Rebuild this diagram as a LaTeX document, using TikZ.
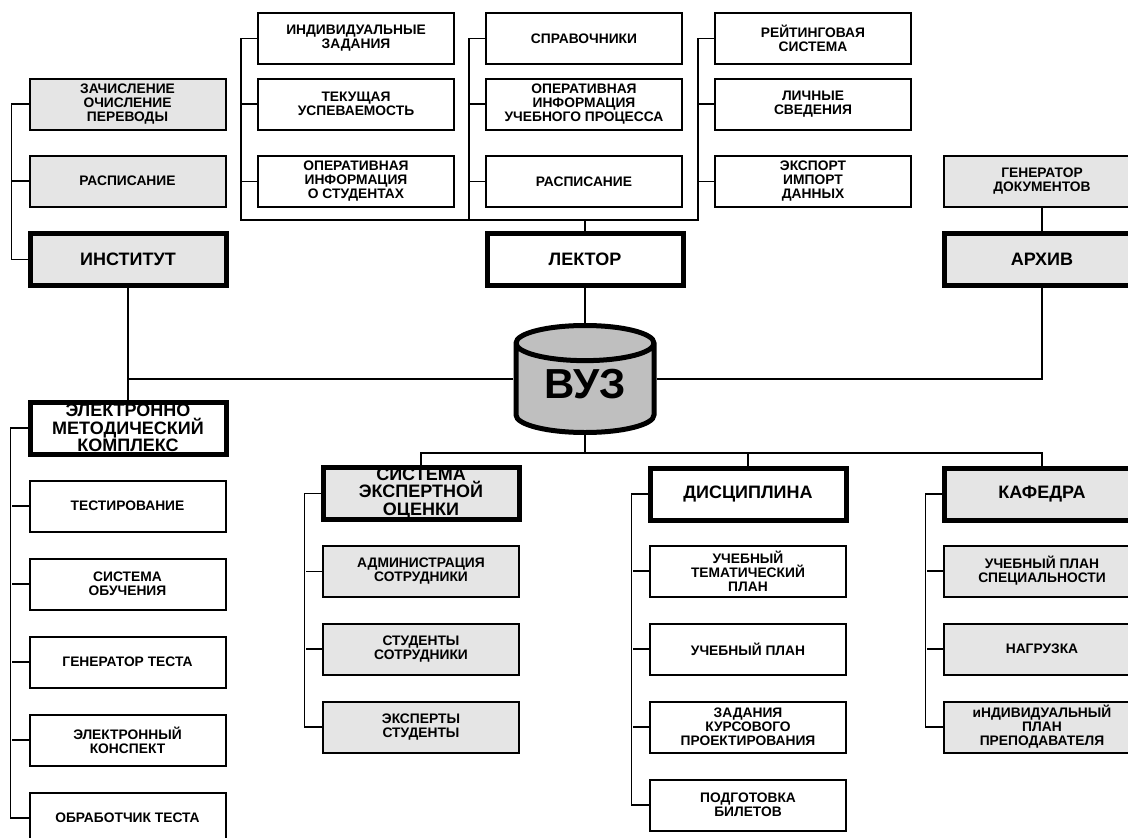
\documentclass[tikz,border=0pt]{standalone}
\usepackage{fontspec}
\setmainfont{Liberation Sans}
\usepackage{tikz}
\usetikzlibrary{shapes.geometric,calc}
\definecolor{boxgray}{gray}{0.9}
\definecolor{cylgray}{gray}{0.75}

\begin{document}
\begin{tikzpicture}[x=1pt,y=-1pt,
		box/.style={draw,line width=2pt,fill=white,minimum width=196,minimum height=51,inner sep=1pt,align=center,font=\bfseries\fontsize{13.8}{14}\selectfont},
		mainbox/.style={box,line width=5pt,minimum height=52,inner sep=0pt,font=\bfseries\fontsize{18}{17.5}\selectfont},
		greybox/.style={fill=boxgray},
		dbase/.style={cylinder,shape border rotate=90,draw,line width=5pt,fill=cylgray,minimum width=138,minimum height=107,aspect=0.4,anchor=shape center,text depth=16pt,font=\bfseries\fontsize{42}{42}\selectfont},
		link/.style={line width=1.8pt}]
	\clip (0,0) rectangle (1128,838);
	% institute
	\node[box,greybox] (zach) at (127.5,104) {ЗАЧИСЛЕНИЕ\\ОЧИСЛЕНИЕ\\ПЕРЕВОДЫ};
	\node[box,greybox] (raspi) at (127.5,181) {РАСПИСАНИЕ};
	\node[mainbox,greybox] (inst) at (128,259.5) {ИНСТИТУТ};
	% lector
	\node[box] (indz) at (356,38.5) {ИНДИВИДУАЛЬНЫЕ\\ЗАДАНИЯ};
	\node[box] (teku) at (356,104) {ТЕКУЩАЯ\\УСПЕВАЕМОСТЬ};
	\node[box] (opst) at (356,181.5) {ОПЕРАТИВНАЯ\\ИНФОРМАЦИЯ\\О СТУДЕНТАХ};
	\node[box] (sprav) at (584,38.5) {СПРАВОЧНИКИ};
	\node[box] (opup) at (584,104) {ОПЕРАТИВНАЯ\\ИНФОРМАЦИЯ\\УЧЕБНОГО ПРОЦЕССА};
	\node[box] (raspl) at (584,181.5) {РАСПИСАНИЕ};
	\node[box] (rejt) at (813,38.5) {РЕЙТИНГОВАЯ\\СИСТЕМА};
	\node[box] (lich) at (813,104) {ЛИЧНЫЕ\\СВЕДЕНИЯ};
	\node[box] (eksp) at (813,181.5) {ЭКСПОРТ\\ИМПОРТ\\ДАННЫХ};
	\node[mainbox] (lekt) at (585,259.5) {ЛЕКТОР};
	% archive
	\node[box,greybox] (gend) at (1042,181.5) {ГЕНЕРАТОР\\ДОКУМЕНТОВ};
	\node[mainbox,greybox] (arch) at (1042,259.5) {АРХИВ};
	% database
	\node[dbase] (vuz) at (585,379) {ВУЗ};
	% e-learning complex
	\node[mainbox] (emk) at (128,428) {ЭЛЕКТРОННО\\МЕТОДИЧЕСКИЙ\\КОМПЛЕКС};
	\node[box] (test) at (127.5,506) {ТЕСТИРОВАНИЕ};
	\node[box] (sobu) at (127.5,584) {СИСТЕМА\\ОБУЧЕНИЯ};
	\node[box] (gent) at (127.5,662) {ГЕНЕРАТОР ТЕСТА};
	\node[box] (ekon) at (127.5,740) {ЭЛЕКТРОННЫЙ\\КОНСПЕКТ};
	\node[box] (obrt) at (127.5,818) {ОБРАБОТЧИК ТЕСТА};
	% expert system
	\node[mainbox,greybox] (ses) at (421,493.5) {СИСТЕМА\\ЭКСПЕРТНОЙ\\ОЦЕНКИ};
	\node[box,greybox] (adm) at (421,571.5) {АДМИНИСТРАЦИЯ\\СОТРУДНИКИ};
	\node[box,greybox] (stso) at (421,649) {СТУДЕНТЫ\\СОТРУДНИКИ};
	\node[box,greybox] (exst) at (421,727) {ЭКСПЕРТЫ\\СТУДЕНТЫ};
	% discipline
	\node[mainbox] (disc) at (748,494) {ДИСЦИПЛИНА};
	\node[box] (utp) at (748,571) {УЧЕБНЫЙ\\ТЕМАТИЧЕСКИЙ\\ПЛАН};
	\node[box] (uplan) at (748,649) {УЧЕБНЫЙ ПЛАН};
	\node[box] (zkp) at (748,727) {ЗАДАНИЯ\\КУРСОВОГО\\ПРОЕКТИРОВАНИЯ};
	\node[box] (podb) at (748,805) {ПОДГОТОВКА\\БИЛЕТОВ};
	% department
	\node[mainbox,greybox] (kaf) at (1042,494) {КАФЕДРА};
	\node[box,greybox] (ups) at (1042,571) {УЧЕБНЫЙ ПЛАН\\СПЕЦИАЛЬНОСТИ};
	\node[box,greybox] (nagr) at (1042,649) {НАГРУЗКА};
	\node[box,greybox] (ipp) at (1042,727) {иНДИВИДУАЛЬНЫЙ\\ПЛАН\\ПРЕПОДАВАТЕЛЯ};
	% connectors
	\coordinate (ljoin) at (585,220);
	\coordinate (bjoin) at (585,453);
	\draw[link] (zach.west) -- ++(-17,0) |- (inst.west) (raspi.west) -- ++(-17,0);
	\draw[link] (indz.west) -- ++(-16,0) |- (ljoin) -- (lekt.north);
	\draw[link] (sprav.west) -- ++(-16,0) |- (ljoin);
	\draw[link] (rejt.west) -- ++(-16,0) |- (ljoin);
	\draw[link] (teku.west) -- ++(-16,0) (opst.west) -- ++(-16,0)
		(opup.west) -- ++(-16,0) (raspl.west) -- ++(-16,0)
		(lich.west) -- ++(-16,0) (eksp.west) -- ++(-16,0);
	\draw[link] (gend.south) -- (arch.north);
	\draw[link] (lekt.south) -- (vuz.north);
	\draw[link] (inst.south) -- (emk.north);
	\draw[link] (vuz.west |- vuz.shape center) -- (inst.south |- vuz.shape center);
	\draw[link] (vuz.east |- vuz.shape center) -| (arch.south);
	\draw[link] (vuz.south) -- (bjoin);
	\draw[link] (ses.north) |- (bjoin) -| (kaf.north);
	\draw[link] (disc.north) -- (disc.north |- bjoin);
	\draw[link] (emk.west) -- ++(-17,0) |- (obrt.west) (test.west) -- ++(-17,0)
		(sobu.west) -- ++(-17,0) (gent.west) -- ++(-17,0) (ekon.west) -- ++(-17,0);
	\draw[link] (ses.west) -- ++(-16,0) |- (exst.west) (adm.west) -- ++(-16,0) (stso.west) -- ++(-16,0);
	\draw[link] (disc.west) -- ++(-16,0) |- (podb.west) (utp.west) -- ++(-16,0)
		(uplan.west) -- ++(-16,0) (zkp.west) -- ++(-16,0);
	\draw[link] (kaf.west) -- ++(-16,0) |- (ipp.west) (ups.west) -- ++(-16,0) (nagr.west) -- ++(-16,0);
\end{tikzpicture}
\end{document}
